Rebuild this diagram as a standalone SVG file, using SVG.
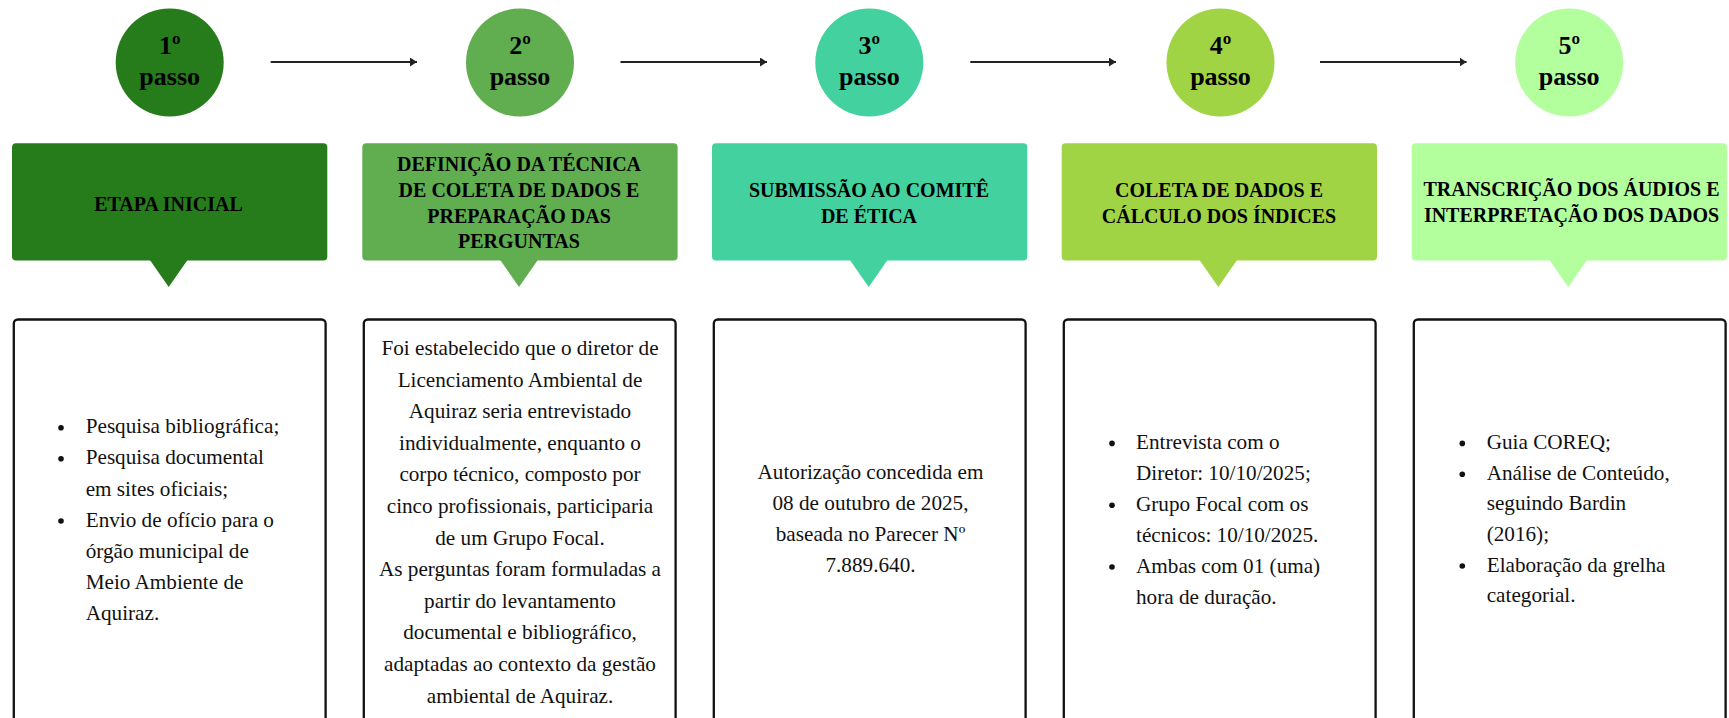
<svg xmlns="http://www.w3.org/2000/svg" width="1729" height="718" viewBox="0 0 1729 718">
<style>
.bg{fill:#ffffff}
.step{font-family:'Liberation Serif','Times New Roman',serif;font-weight:bold;font-size:26px;fill:#000;text-anchor:middle}
.head{font-family:'Liberation Serif','Times New Roman',serif;font-weight:bold;font-size:20px;fill:#000;text-anchor:middle}
.body{font-family:'Liberation Serif','Times New Roman',serif;font-size:21.2px;fill:#111}
.mid{text-anchor:middle}
.card{fill:#ffffff;stroke:#111;stroke-width:2.3}
.bul{fill:#111}
.conn{stroke:#222;stroke-width:2.2;fill:none}
.c1{fill:#267B1B}.c2{fill:#61AE51}.c3{fill:#43D29F}.c4{fill:#A0D444}.c5{fill:#B3FE9D}
</style>
<defs>
<marker id="ah" markerUnits="userSpaceOnUse" markerWidth="8" markerHeight="9" refX="7" refY="4.5" orient="auto">
<path d="M0,0 L7,4.5 L0,9 z" fill="#222"/>
</marker>
</defs>
<rect class="bg" x="0" y="0" width="1729" height="718"/>

<g id="connectors">
<line class="conn" x1="270.7" y1="62" x2="417" y2="62" marker-end="url(#ah)"/>
<line class="conn" x1="620.5" y1="62" x2="767" y2="62" marker-end="url(#ah)"/>
<line class="conn" x1="970.3" y1="62" x2="1116" y2="62" marker-end="url(#ah)"/>
<line class="conn" x1="1320" y1="62" x2="1466.5" y2="62" marker-end="url(#ah)"/>
</g>

<g id="step1">
<circle class="c1" cx="169.7" cy="62.5" r="54"/>
<text class="step" x="169.7" y="53.5">1º</text>
<text class="step" x="169.7" y="85">passo</text>
</g>
<g id="step2">
<circle class="c2" cx="520" cy="62.5" r="54"/>
<text class="step" x="520" y="53.5">2º</text>
<text class="step" x="520" y="85">passo</text>
</g>
<g id="step3">
<circle class="c3" cx="869.3" cy="62.5" r="54"/>
<text class="step" x="869.3" y="53.5">3º</text>
<text class="step" x="869.3" y="85">passo</text>
</g>
<g id="step4">
<circle class="c4" cx="1220.5" cy="62.5" r="54"/>
<text class="step" x="1220.5" y="53.5">4º</text>
<text class="step" x="1220.5" y="85">passo</text>
</g>
<g id="step5">
<circle class="c5" cx="1569.2" cy="62.5" r="54"/>
<text class="step" x="1569.2" y="53.5">5º</text>
<text class="step" x="1569.2" y="85">passo</text>
</g>

<g id="head1">
<rect class="c1" x="12" y="143.3" width="315.3" height="117.2" rx="4"/>
<polygon class="c1" points="149.2,259 188.2,259 168.7,287"/>
<text class="head" x="168.5" y="210.5">ETAPA INICIAL</text>
</g>
<g id="head2">
<rect class="c2" x="362.3" y="143.3" width="315.3" height="117.2" rx="4"/>
<polygon class="c2" points="499.5,259 538.5,259 519,287"/>
<text class="head" x="519" y="171">DEFINIÇÃO DA TÉCNICA</text>
<text class="head" x="519" y="196.8">DE COLETA DE DADOS E</text>
<text class="head" x="519" y="222.6">PREPARAÇÃO DAS</text>
<text class="head" x="519" y="248.4">PERGUNTAS</text>
</g>
<g id="head3">
<rect class="c3" x="712" y="143.3" width="315.3" height="117.2" rx="4"/>
<polygon class="c3" points="849.2,259 888.2,259 868.7,287"/>
<text class="head" x="869" y="196.6">SUBMISSÃO AO COMITÊ</text>
<text class="head" x="869" y="222.6">DE ÉTICA</text>
</g>
<g id="head4">
<rect class="c4" x="1061.7" y="143.3" width="315.3" height="117.2" rx="4"/>
<polygon class="c4" points="1198.8,259 1237.8,259 1218.3,287"/>
<text class="head" x="1219" y="196.6">COLETA DE DADOS E</text>
<text class="head" x="1219" y="222.6">CÁLCULO DOS ÍNDICES</text>
</g>
<g id="head5">
<rect class="c5" x="1411.7" y="143.3" width="315.3" height="117.2" rx="4"/>
<polygon class="c5" points="1548.8,259 1587.8,259 1568.3,287"/>
<text class="head" x="1571.5" y="196">TRANSCRIÇÃO DOS ÁUDIOS E</text>
<text class="head" x="1571.5" y="222">INTERPRETAÇÃO DOS DADOS</text>
</g>

<g id="card1">
<rect class="card" x="13.8" y="319.5" width="311.8" height="420" rx="4"/>
<circle class="bul" cx="61" cy="427.7" r="2.8"/>
<circle class="bul" cx="61" cy="458.8" r="2.8"/>
<circle class="bul" cx="61" cy="521" r="2.8"/>
<text class="body" x="85.7" y="433.3">Pesquisa bibliográfica;</text>
<text class="body" x="85.7" y="464.4">Pesquisa documental</text>
<text class="body" x="85.7" y="495.5">em sites oficiais;</text>
<text class="body" x="85.7" y="526.6">Envio de ofício para o</text>
<text class="body" x="85.7" y="557.7">órgão municipal de</text>
<text class="body" x="85.7" y="588.8">Meio Ambiente de</text>
<text class="body" x="85.7" y="619.9">Aquiraz.</text>
</g>
<g id="card2">
<rect class="card" x="363.8" y="319.5" width="311.8" height="420" rx="4"/>
<text class="body mid" x="520" y="355">Foi estabelecido que o diretor de</text>
<text class="body mid" x="520" y="386.6">Licenciamento Ambiental de</text>
<text class="body mid" x="520" y="418.2">Aquiraz seria entrevistado</text>
<text class="body mid" x="520" y="449.8">individualmente, enquanto o</text>
<text class="body mid" x="520" y="481.4">corpo técnico, composto por</text>
<text class="body mid" x="520" y="513">cinco profissionais, participaria</text>
<text class="body mid" x="520" y="544.6">de um Grupo Focal.</text>
<text class="body mid" x="520" y="576.2">As perguntas foram formuladas a</text>
<text class="body mid" x="520" y="607.8">partir do levantamento</text>
<text class="body mid" x="520" y="639.4">documental e bibliográfico,</text>
<text class="body mid" x="520" y="671">adaptadas ao contexto da gestão</text>
<text class="body mid" x="520" y="702.6">ambiental de Aquiraz.</text>
</g>
<g id="card3">
<rect class="card" x="713.8" y="319.5" width="311.8" height="420" rx="4"/>
<text class="body mid" x="870.5" y="479">Autorização concedida em</text>
<text class="body mid" x="870.5" y="510.1">08 de outubro de 2025,</text>
<text class="body mid" x="870.5" y="541.2">baseada no Parecer Nº</text>
<text class="body mid" x="870.5" y="572.3">7.889.640.</text>
</g>
<g id="card4">
<rect class="card" x="1063.8" y="319.5" width="311.8" height="420" rx="4"/>
<circle class="bul" cx="1112" cy="443.4" r="2.8"/>
<circle class="bul" cx="1112" cy="505.2" r="2.8"/>
<circle class="bul" cx="1112" cy="567" r="2.8"/>
<text class="body" x="1136" y="449">Entrevista com o</text>
<text class="body" x="1136" y="479.9">Diretor: 10/10/2025;</text>
<text class="body" x="1136" y="510.8">Grupo Focal com os</text>
<text class="body" x="1136" y="541.7">técnicos: 10/10/2025.</text>
<text class="body" x="1136" y="572.6">Ambas com 01 (uma)</text>
<text class="body" x="1136" y="603.5">hora de duração.</text>
</g>
<g id="card5">
<rect class="card" x="1413.8" y="319.5" width="311.8" height="420" rx="4"/>
<circle class="bul" cx="1462.3" cy="443.4" r="2.8"/>
<circle class="bul" cx="1462.3" cy="474.2" r="2.8"/>
<circle class="bul" cx="1462.3" cy="566" r="2.8"/>
<text class="body" x="1486.7" y="449">Guia COREQ;</text>
<text class="body" x="1486.7" y="479.8">Análise de Conteúdo,</text>
<text class="body" x="1486.7" y="510.4">seguindo Bardin</text>
<text class="body" x="1486.7" y="541">(2016);</text>
<text class="body" x="1486.7" y="571.6">Elaboração da grelha</text>
<text class="body" x="1486.7" y="602.2">categorial.</text>
</g>
</svg>
